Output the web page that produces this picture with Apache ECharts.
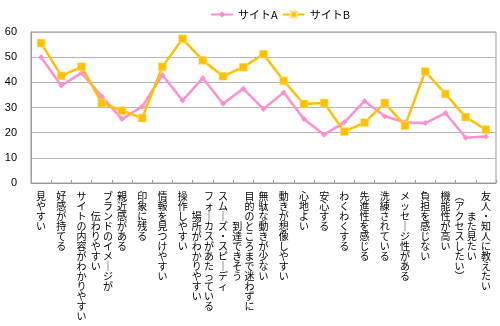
<!DOCTYPE html>
<html>
<head>
<meta charset="utf-8">
<script src="https://cdn.jsdelivr.net/npm/echarts@6/dist/echarts.min.js"></script>
<style>
  html, body { margin: 0; padding: 0; background: #fff; }
  #chart { width: 500px; height: 326px; }
</style>
</head>
<body>
<div id="chart"></div>
<script>
// Survey items; a "\n" splits an item into two vertical columns (first column on the right)
const categories = [
  '見やすい',
  '好感が持てる',
  'サイトの内容がわかりやすい',
  'ブランドのイメージが\n伝わりやすい',
  '親近感がある',
  '印象に残る',
  '情報を見つけやすい',
  '操作しやすい',
  'フォーカスがあたっている\n場所がわかりやすい',
  'スムーズ・スピーディ',
  '目的のところまで迷わずに\n到達できそう',
  '無駄な動きが少ない',
  '動きが想像しやすい',
  '心地よい',
  '安心する',
  'わくわくする',
  '先進性を感じる',
  '洗練されている',
  'メッセージ性がある',
  '負担を感じない',
  '機能性が高い',
  'また見たい\n（アクセスしたい）',
  '友人・知人に教えたい'
];

const siteA = [50.0, 38.7, 43.7, 34.4, 25.4, 30.4, 42.9, 32.8, 41.7, 31.5, 37.5,
               29.4, 36.0, 25.4, 19.2, 24.1, 32.6, 26.5, 24.1, 23.8, 27.8, 18.0, 18.5];
const siteB = [55.6, 42.6, 46.2, 31.8, 28.7, 25.8, 46.2, 57.3, 48.7, 42.4, 46.0,
               51.2, 40.6, 31.4, 31.8, 20.4, 24.0, 31.8, 22.8, 44.3, 35.4, 26.2, 21.2];

const seriesNames = ['サイトA', 'サイトB'];
const yTicks = { min: 0, max: 60, interval: 10 };

// Glyphs that change shape when set vertically
const verticalForms = { 'ー': '｜', '（': '︵', '）': '︶' };
function toVertical(s) {
  return Array.from(s).map(c => verticalForms[c] || c);
}

// Lay a label out top-to-bottom, one character per row; two lines become
// two columns read right-to-left, centred against each other.
function verticalLabel(text) {
  const lines = text.split('\n').map(toVertical);
  if (lines.length === 1) return lines[0].join('\n');
  const right = lines[0], left = lines[1];
  const n = Math.max(right.length, left.length);
  const offR = Math.round((n - right.length) / 2);
  const offL = Math.round((n - left.length) / 2);
  const rows = [];
  for (let r = 0; r < n; r++) {
    const a = left[r - offL] || '　';
    const b = right[r - offR] || '　';
    rows.push(a + ' ' + b);
  }
  return rows.join('\n');
}

const chart = echarts.init(document.getElementById('chart'), null, { renderer: 'canvas' });

chart.setOption({
  animation: false,
  backgroundColor: '#ffffff',
  textStyle: { fontFamily: '"Noto Sans CJK JP", "Liberation Sans", sans-serif' },
  legend: {
    data: seriesNames,
    top: 4,
    left: 205,
    itemWidth: 22,
    itemHeight: 8,
    itemGap: 4,
    textStyle: { color: '#000', fontSize: 11, fontFamily: '"Noto Sans CJK JP", sans-serif' }
  },
  grid: {
    left: 31, right: 4, top: 32, bottom: 143,
    show: true,
    borderColor: '#9a9a9a',
    borderWidth: 1
  },
  xAxis: {
    type: 'category',
    data: categories,
    boundaryGap: true,
    axisLine: { lineStyle: { color: '#9a9a9a', width: 1 } },
    axisTick: { show: true, inside: true, length: 3, lineStyle: { color: '#9a9a9a' } },
    axisLabel: {
      interval: 0,
      margin: 8,
      color: '#000',
      fontSize: 10,
      lineHeight: 10,
      verticalAlign: 'top',
      fontFamily: '"Noto Sans CJK JP", sans-serif',
      formatter: verticalLabel
    }
  },
  yAxis: {
    type: 'value',
    min: yTicks.min,
    max: yTicks.max,
    interval: yTicks.interval,
    axisLine: { show: true, lineStyle: { color: '#9a9a9a' } },
    axisTick: { show: false },
    splitLine: { lineStyle: { color: '#b4b4b4', width: 1 } },
    axisLabel: {
      color: '#000',
      fontSize: 11,
      margin: 14,
      fontFamily: '"Liberation Sans", Arial, sans-serif'
    }
  },
  series: [
    {
      name: seriesNames[0],
      type: 'line',
      data: siteA,
      symbol: 'diamond',
      symbolSize: 6,
      color: '#ff8fcf',
      lineStyle: { width: 2.5, color: '#ff8fcf' },
      itemStyle: { color: '#ff8fcf' },
      z: 2
    },
    {
      name: seriesNames[1],
      type: 'line',
      data: siteB,
      symbol: 'rect',
      symbolSize: 8,
      color: '#ffc000',
      lineStyle: { width: 2.5, color: '#ffc000' },
      itemStyle: { color: '#ffc000', borderColor: '#ffe79a', borderWidth: 0.5 },
      z: 3
    }
  ]
});
</script>
</body>
</html>
